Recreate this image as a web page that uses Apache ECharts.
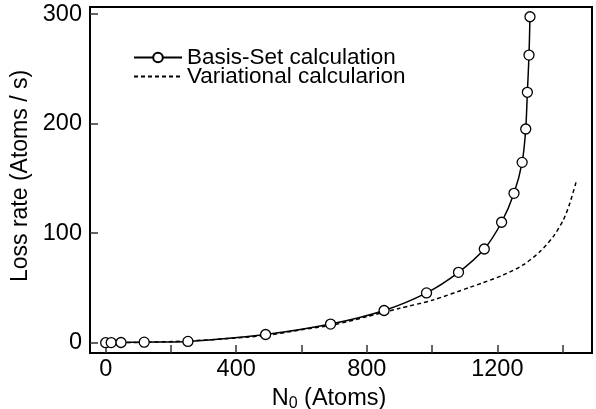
<!DOCTYPE html>
<html>
<head>
<meta charset="utf-8">
<script src="https://cdn.jsdelivr.net/npm/echarts@6/dist/echarts.min.js"></script>
<style>html,body{margin:0;padding:0;background:#fff;}#c{width:596px;height:409px;}</style>
</head>
<body>
<div id="c"></div>
<script>
const basisX = [0, 17, 47, 118, 252, 490, 689, 853, 983, 1081, 1160, 1213, 1251, 1276, 1287, 1292, 1297, 1300];
const basisY = [0, 0.1, 0.2, 0.5, 1.2, 7.5, 17, 29.4, 45.5, 64.3, 85.6, 110, 136.4, 164.7, 195.2, 228.7, 262.7, 297.7];
const varX = [0, 100, 250, 400, 500, 595, 697, 799, 901, 1003, 1116, 1156, 1218, 1279, 1330, 1371, 1402, 1422, 1443];
const varY = [0, 0.3, 1.5, 4.3, 7, 11.6, 16.2, 23.7, 31.4, 39, 50.6, 54.8, 61.8, 71, 83, 96.8, 112, 127.3, 148.6];
const xTicks = [0, 200, 400, 600, 800, 1000, 1200, 1400];
const xLabels = [0, 400, 800, 1200];
const yTicks = [0, 100, 200, 300];
const seriesNames = ['Basis-Set calculation', 'Variational calcularion'];

const FONT = 'Liberation Sans, Arial, sans-serif';
const FS = 23.5;
const chart = echarts.init(document.getElementById('c'), null, {renderer: 'canvas'});
chart.setOption({
  animation: false,
  backgroundColor: '#fff',
  grid: {left: 90, right: 4, top: 7, bottom: 56, containLabel: false, outerBoundsMode: 'none',
    show: true, borderColor: '#000', borderWidth: 2, backgroundColor: 'transparent'},
  legend: {
    orient: 'vertical', left: 133, top: 46, padding: 0, itemGap: -4, itemWidth: 48, itemHeight: 12,
    textStyle: {fontFamily: FONT, fontSize: 22.5, color: '#000'},
    data: [
      {name: seriesNames[0]},
      {name: seriesNames[1], itemStyle: {color: 'transparent', borderColor: 'transparent', borderWidth: 0}}
    ]
  },
  xAxis: {
    type: 'value', min: -48, max: 1490,
    axisLine: {show: true, onZero: false, lineStyle: {color: '#000', width: 2}},
    axisTick: {show: true, inside: true, length: 8, customValues: xTicks, lineStyle: {color: '#333', width: 1.5}},
    axisLabel: {customValues: xLabels, formatter: v => String(v), fontFamily: FONT, fontSize: FS, color: '#000', margin: 5},
    splitLine: {show: false},
    name: '{n|N}{s|0}{n| (Atoms)}', nameLocation: 'middle', nameGap: 25,
    nameTextStyle: {padding: [0, 24, 0, 0], rich: {
      n: {fontFamily: FONT, fontSize: FS, color: '#000'},
      s: {fontFamily: FONT, fontSize: 16, color: '#000', padding: [10, 0, 0, 0]}
    }}
  },
  yAxis: {
    type: 'value', min: -9.4, max: 306.6,
    axisLine: {show: true, onZero: false, lineStyle: {color: '#000', width: 2}},
    axisTick: {show: true, inside: true, length: 8, customValues: yTicks, lineStyle: {color: '#333', width: 1.5}},
    axisLabel: {customValues: yTicks, formatter: v => String(v), fontFamily: FONT, fontSize: FS, color: '#000', margin: 8},
    splitLine: {show: false},
    name: 'Loss rate (Atoms / s)', nameLocation: 'middle', nameGap: 56,
    nameTextStyle: {fontFamily: FONT, fontSize: 23, color: '#000', padding: [0, 0, 0, 8]}
  },
  series: [
    {
      name: seriesNames[0], type: 'line', smooth: 0.25,
      data: basisX.map((x, i) => [x, basisY[i]]),
      symbol: 'circle', symbolSize: 10, showAllSymbol: true,
      itemStyle: {color: '#fff', borderColor: '#000', borderWidth: 1.3},
      lineStyle: {color: '#000', width: 1.5}, z: 3
    },
    {
      name: seriesNames[1], type: 'line', smooth: 0.25,
      data: varX.map((x, i) => [x, varY[i]]),
      symbol: 'none',
      itemStyle: {color: '#000'},
      lineStyle: {color: '#000', width: 1.5, type: [4, 3]}, z: 2
    }
  ]
});
</script>
</body>
</html>
